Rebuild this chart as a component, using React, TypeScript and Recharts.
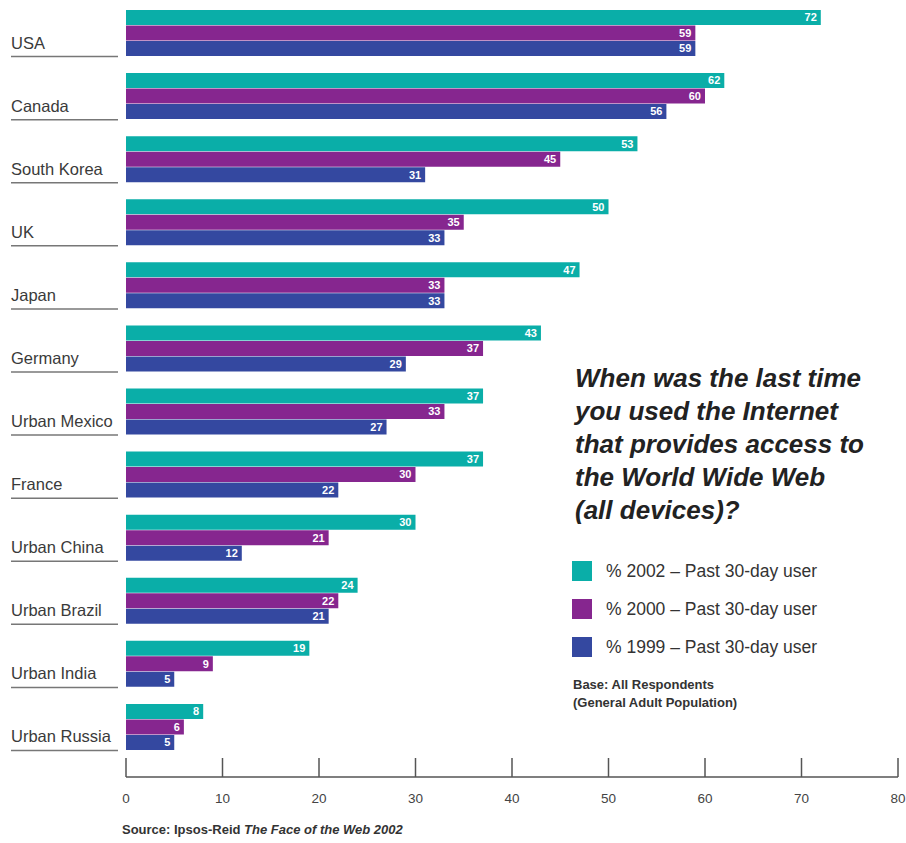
import React from 'react';
import { BarChart, Bar, XAxis, YAxis, LabelList } from 'recharts';

// --- data ---
const countries = [
  'USA', 'Canada', 'South Korea', 'UK', 'Japan', 'Germany',
  'Urban Mexico', 'France', 'Urban China', 'Urban Brazil', 'Urban India', 'Urban Russia',
];
const users2002 = [72, 62, 53, 50, 47, 43, 37, 37, 30, 24, 19, 8];
const users2000 = [59, 60, 45, 35, 33, 37, 33, 30, 21, 22, 9, 6];
const users1999 = [59, 56, 31, 33, 33, 29, 27, 22, 12, 21, 5, 5];
const xTicks = [0, 10, 20, 30, 40, 50, 60, 70, 80];

const series = [
  { key: 'y2002', name: '% 2002 – Past 30-day user', color: '#0AAEA8' },
  { key: 'y2000', name: '% 2000 – Past 30-day user', color: '#86268F' },
  { key: 'y1999', name: '% 1999 – Past 30-day user', color: '#3448A0' },
];

const data = countries.map((c, i) => ({
  country: c,
  y2002: users2002[i],
  y2000: users2000[i],
  y1999: users1999[i],
}));

const FONT = '"Liberation Sans", Arial, sans-serif';

// category label with the grey underline
const CountryTick = (props: any) => {
  const { y, payload } = props;
  return (
    <g>
      <text x={11} y={y + 15} fontSize={16.5} fill="#3a3a3a" fontFamily={FONT}>
        {payload.value}
      </text>
      <line x1={11} x2={118} y1={y + 23} y2={y + 23} stroke="#777" strokeWidth={1.5} />
    </g>
  );
};

// x ticks point upward from the axis line
const ValueTick = (props: any) => {
  const { x, y, payload } = props;
  return (
    <g>
      <line x1={x} x2={x} y1={y - 19} y2={y} stroke="#555" strokeWidth={1.5} />
      <text x={x} y={y + 26} textAnchor="middle" fontSize={13.5} fill="#444" fontFamily={FONT}>
        {payload.value}
      </text>
    </g>
  );
};

const LegendBox = () => (
  <div style={{ fontFamily: FONT }}>
    {series.map((s) => (
      <div key={s.key} style={{ display: 'flex', alignItems: 'center', height: 38 }}>
        <span style={{ width: 20, height: 20, background: s.color, display: 'inline-block', marginRight: 14 }} />
        <span style={{ fontSize: 17.5, color: '#333' }}>{s.name}</span>
      </div>
    ))}
  </div>
);

export default function App() {
  return (
    <div style={{ position: 'absolute', left: 0, top: 0, width: 906, height: 843, background: '#fff' }}>
      <BarChart
        width={906}
        height={843}
        data={data}
        layout="vertical"
        margin={{ top: 2, right: 8, bottom: 0, left: 0 }}
        barCategoryGap={8}
        barGap={0.5}
      >
        <XAxis
          type="number"
          domain={[0, 80]}
          ticks={xTicks}
          height={66}
          axisLine={{ stroke: '#555', strokeWidth: 1.5 }}
          tickLine={false}
          tickSize={0}
          tickMargin={0}
          tick={<ValueTick />}
          interval={0}
        />
        <YAxis
          type="category"
          dataKey="country"
          width={126}
          axisLine={false}
          tickLine={false}
          tick={<CountryTick />}
          interval={0}
          padding={{ top: 0, bottom: 18 }}
        />
        {series.map((s) => (
          <Bar key={s.key} dataKey={s.key} name={s.name} fill={s.color} isAnimationActive={false}>
            <LabelList
              dataKey={s.key}
              position="insideRight"
              offset={4}
              fill="#fff"
              fontSize={11}
              fontWeight="bold"
              fontFamily={FONT}
            />
          </Bar>
        ))}
      </BarChart>

      <div style={{ position: 'absolute', left: 572, top: 552, width: 330 }}>
        <LegendBox />
      </div>

      <div
        style={{
          position: 'absolute', left: 575, top: 362, fontFamily: FONT, fontSize: 26,
          fontWeight: 'bold', fontStyle: 'italic', lineHeight: '33px', color: '#222',
        }}
      >
        When was the last time<br />
        you used the Internet<br />
        that provides access to<br />
        the World Wide Web<br />
        (all devices)?
      </div>

      <div
        style={{
          position: 'absolute', left: 573, top: 676, fontFamily: FONT, fontSize: 13,
          fontWeight: 'bold', lineHeight: '18px', color: '#333',
        }}
      >
        Base: All Respondents<br />
        (General Adult Population)
      </div>

      <div
        style={{
          position: 'absolute', left: 122, top: 822, fontFamily: FONT, fontSize: 13,
          fontWeight: 'bold', color: '#333',
        }}
      >
        Source: Ipsos-Reid <i>The Face of the Web 2002</i>
      </div>
    </div>
  );
}
